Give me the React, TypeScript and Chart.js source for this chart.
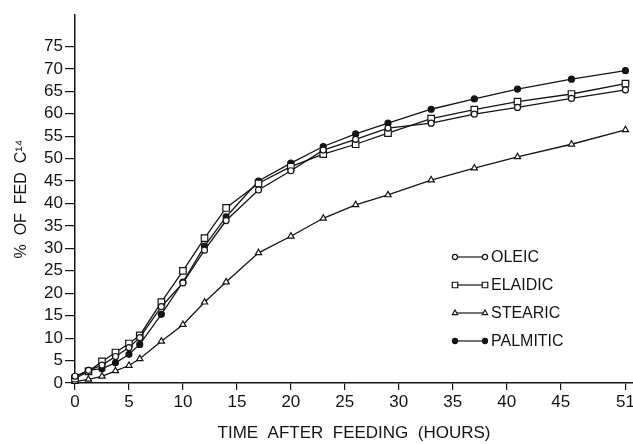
import React, { useEffect, useRef } from 'react';
import { Chart, registerables } from 'chart.js';
import { drawPoint } from 'chart.js/helpers';

Chart.register(...registerables);

const hours = [0, 1.25, 2.5, 3.75, 5, 6, 8, 10, 12, 14, 17, 20, 23, 26, 29, 33, 37, 41, 46, 51];
const oleic = [1.5, 2.8, 4.0, 5.9, 7.9, 10.1, 17.0, 22.3, 29.6, 36.2, 43.0, 47.3, 51.9, 54.3, 56.8, 57.9, 59.9, 61.4, 63.4, 65.3];
const elaidic = [1.0, 2.6, 4.8, 6.8, 8.8, 10.6, 18.0, 25.0, 32.3, 39.0, 44.5, 48.2, 51.0, 53.2, 55.7, 58.9, 60.9, 62.7, 64.4, 66.7];
const stearic = [0.3, 0.8, 1.5, 2.7, 3.9, 5.4, 9.3, 13.0, 18.0, 22.5, 29.0, 32.7, 36.7, 39.7, 41.9, 45.2, 47.9, 50.4, 53.2, 56.4];
const palmitic = [1.3, 2.8, 3.2, 4.5, 6.4, 8.6, 15.3, 22.5, 30.5, 37.0, 45.0, 49.0, 52.7, 55.5, 57.9, 61.0, 63.3, 65.5, 67.7, 69.6];

const seriesLabels = ['OLEIC', 'ELAIDIC', 'STEARIC', 'PALMITIC'];
const xTicks = [0, 5, 10, 15, 20, 25, 30, 35, 40, 45, 51];
const yTicks = [0, 5, 10, 15, 20, 25, 30, 35, 40, 45, 50, 55, 60, 65, 70, 75];
const xTitle = 'TIME  AFTER  FEEDING  (HOURS)';
const yTitle = '%  OF  FED  C\u00B9\u2074';

const INK = '#141414';
const FONT = '"Liberation Sans", Arial, sans-serif';

const toXY = (vals: number[]) => vals.map((v, i) => ({ x: hours[i], y: v }));

const lineLegend = {
  id: 'lineLegend',
  afterDraw(chart: any) {
    const ctx = chart.ctx as CanvasRenderingContext2D;
    const x1 = 455;
    const x2 = 485;
    const tx = 491;
    const rows = [257, 285, 313, 341];
    chart.data.datasets.forEach((ds: any, i: number) => {
      const y = rows[i];
      ctx.save();
      ctx.strokeStyle = INK;
      ctx.lineWidth = 1.2;
      ctx.beginPath();
      ctx.moveTo(x1, y);
      ctx.lineTo(x2, y);
      ctx.stroke();
      const opts = {
        pointStyle: ds.pointStyle,
        radius: ds.pointRadius * 0.85,
        rotation: 0,
        borderWidth: 1.2,
      };
      ctx.fillStyle = ds.pointBackgroundColor;
      ctx.strokeStyle = INK;
      ctx.lineWidth = 1.2;
      drawPoint(ctx, opts as any, x1, y);
      drawPoint(ctx, opts as any, x2, y);
      ctx.fillStyle = INK;
      ctx.font = `16px ${FONT}`;
      ctx.textBaseline = 'middle';
      ctx.textAlign = 'left';
      ctx.fillText(ds.label, tx, y + 1);
      ctx.restore();
    });
  },
};

export default function App() {
  const canvasRef = useRef<HTMLCanvasElement | null>(null);

  useEffect(() => {
    document.body.style.margin = '0';
    const canvas = canvasRef.current;
    if (!canvas) return;

    const mk = (label: string, data: number[], style: string, fill: string, radius: number) => ({
      label,
      data: toXY(data),
      borderColor: INK,
      borderWidth: 1.3,
      pointStyle: style,
      pointRadius: radius,
      pointBorderWidth: 1.2,
      pointBorderColor: INK,
      pointBackgroundColor: fill,
      fill: false,
      tension: 0,
      clip: false,
    });

    const chart = new Chart(canvas, {
      type: 'line',
      data: {
        datasets: [
          mk(seriesLabels[0], oleic, 'circle', '#ffffff', 3),
          mk(seriesLabels[1], elaidic, 'rect', '#ffffff', 4.6),
          mk(seriesLabels[2], stearic, 'triangle', '#ffffff', 3.6),
          mk(seriesLabels[3], palmitic, 'circle', INK, 3),
        ],
      },
      options: {
        responsive: false,
        animation: false,
        layout: { autoPadding: false, padding: { top: 15, right: 0, bottom: 0, left: 0 } },
        plugins: {
          legend: { display: false },
          tooltip: { enabled: false },
        },
        scales: {
          x: {
            type: 'linear',
            min: 0,
            max: 51.7,
            afterBuildTicks: (s: any) => {
              s.ticks = xTicks.map((v) => ({ value: v }));
            },
            afterFit: (s: any) => {
              s.height = 61;
              s.paddingLeft = 0;
              s.paddingRight = 0;
            },
            ticks: {
              autoSkip: false,
              maxRotation: 0,
              padding: 2,
              color: INK,
              font: { size: 17, family: FONT },
              callback: (v: any) => String(v),
            },
            grid: {
              display: true,
              drawOnChartArea: false,
              drawTicks: true,
              tickLength: 7,
              color: INK,
              lineWidth: 1.2,
            },
            border: { display: true, color: INK, width: 1.5 },
            title: {
              display: true,
              text: xTitle,
              color: INK,
              font: { size: 17, family: FONT },
              padding: { top: 0, bottom: 0 },
            },
          },
          y: {
            type: 'linear',
            min: 0,
            max: 82,
            afterBuildTicks: (s: any) => {
              s.ticks = yTicks.map((v) => ({ value: v }));
            },
            afterFit: (s: any) => {
              s.width = 75;
              s.paddingTop = 0;
              s.paddingBottom = 0;
            },
            ticks: {
              autoSkip: false,
              padding: 2,
              color: INK,
              font: { size: 17, family: FONT },
              callback: (v: any) => String(v),
            },
            grid: {
              display: true,
              drawOnChartArea: false,
              drawTicks: true,
              tickLength: 10,
              color: INK,
              lineWidth: 1.2,
            },
            border: { display: true, color: INK, width: 1.5 },
            title: {
              display: true,
              text: yTitle,
              color: INK,
              font: { size: 16, family: FONT },
              padding: { top: 12, bottom: 0 },
            },
          },
        },
      },
      plugins: [lineLegend],
    } as any);

    return () => {
      chart.destroy();
    };
  }, []);

  return (
    <div style={{ width: 633, height: 444, background: '#fff' }}>
      <canvas ref={canvasRef} width={633} height={444} />
    </div>
  );
}
